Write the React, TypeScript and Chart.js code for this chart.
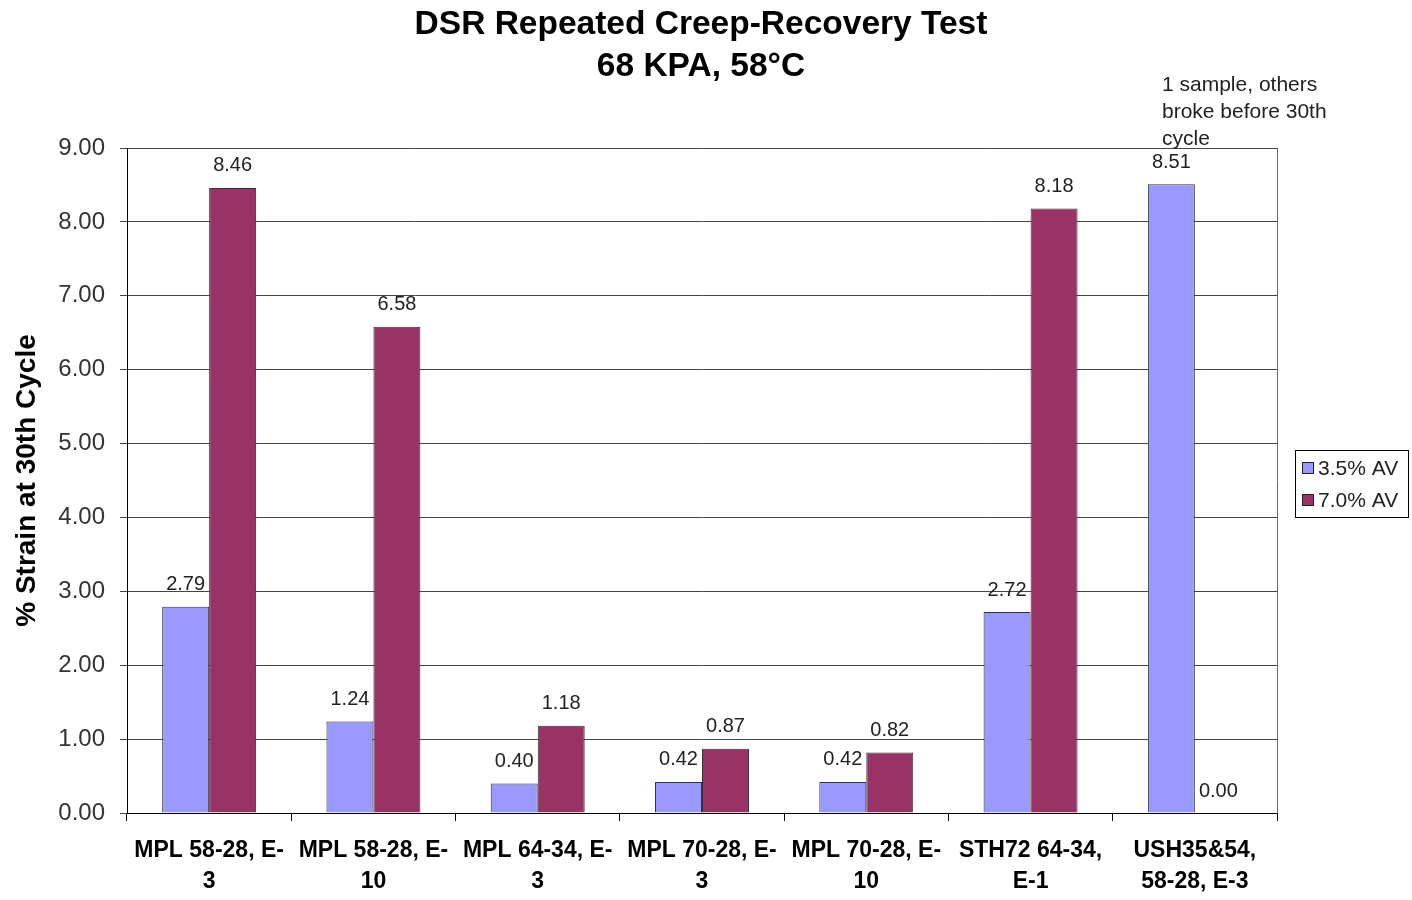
import React, { useEffect, useRef } from "react";
import { Chart, registerables } from "chart.js";

Chart.register(...registerables);

const categories: string[][] = [
  ["MPL 58-28, E-", "3"],
  ["MPL 58-28, E-", "10"],
  ["MPL 64-34, E-", "3"],
  ["MPL 70-28, E-", "3"],
  ["MPL 70-28, E-", "10"],
  ["STH72 64-34,", "E-1"],
  ["USH35&54,", "58-28, E-3"],
];
const av35: number[] = [2.79, 1.24, 0.4, 0.42, 0.42, 2.72, 8.51];
const av70: number[] = [8.46, 6.58, 1.18, 0.87, 0.82, 8.18, 0.0];
const seriesNames = ["3.5% AV", "7.0% AV"];
const seriesColors = ["#9999FF", "#993366"];
const titleLines = ["DSR Repeated Creep-Recovery Test", "68 KPA, 58°C"];
const yTitle = "% Strain at 30th Cycle";
const noteLines = ["1 sample, others", "broke before 30th", "cycle"];

const FONT = "'Liberation Sans', Arial, sans-serif";

const extrasPlugin = {
  id: "extras",
  afterDatasetsDraw(chart: any) {
    const ctx = chart.ctx;
    const area = chart.chartArea;
    ctx.save();
    // right frame line
    ctx.strokeStyle = "#666";
    ctx.lineWidth = 1;
    ctx.beginPath();
    ctx.moveTo(Math.round(area.right) + 0.5, area.top);
    ctx.lineTo(Math.round(area.right) + 0.5, area.bottom);
    ctx.stroke();

    // data labels
    ctx.font = `20px ${FONT}`;
    ctx.fillStyle = "#222";
    ctx.textAlign = "center";
    ctx.textBaseline = "middle";
    chart.data.datasets.forEach((ds: any, di: number) => {
      const meta = chart.getDatasetMeta(di);
      meta.data.forEach((bar: any, i: number) => {
        const v = ds.data[i] as number;
        ctx.fillText(v.toFixed(2), bar.x, bar.y - 22);
      });
    });

    // title
    ctx.fillStyle = "#000";
    ctx.font = `bold 33.5px ${FONT}`;
    ctx.fillText(titleLines[0], 701, 25);
    ctx.fillText(titleLines[1], 701, 67);

    // note
    ctx.font = `21px ${FONT}`;
    ctx.fillStyle = "#222";
    ctx.textAlign = "left";
    noteLines.forEach((t, i) => ctx.fillText(t, 1162, 85 + i * 27));

    // legend
    ctx.strokeStyle = "#000";
    ctx.lineWidth = 1;
    ctx.strokeRect(1295.5, 450.5, 113, 67);
    ctx.font = `21px ${FONT}`;
    seriesNames.forEach((name, i) => {
      const cy = 468 + i * 32;
      ctx.fillStyle = seriesColors[i];
      ctx.fillRect(1302, cy - 6, 12, 12);
      ctx.strokeStyle = "#222";
      ctx.strokeRect(1302.5, cy - 5.5, 11, 11);
      ctx.fillStyle = "#222";
      ctx.fillText(name, 1318, cy + 1);
    });
    ctx.restore();
  },
};

export default function App() {
  const ref = useRef<HTMLCanvasElement | null>(null);
  useEffect(() => {
    if (!ref.current) return;
    const chart = new Chart(ref.current, {
      type: "bar",
      data: {
        labels: categories as any,
        datasets: [
          {
            label: seriesNames[0],
            data: av35,
            backgroundColor: seriesColors[0],
            borderColor: "#333",
            borderWidth: 1,
            categoryPercentage: 0.572,
            barPercentage: 1,
          },
          {
            label: seriesNames[1],
            data: av70,
            backgroundColor: seriesColors[1],
            borderColor: "#333",
            borderWidth: 1,
            categoryPercentage: 0.572,
            barPercentage: 1,
          },
        ],
      },
      options: {
        responsive: false,
        animation: false,
        layout: { padding: { top: 148, right: 135, left: 0, bottom: 0 } },
        plugins: {
          legend: { display: false },
          title: { display: false },
          tooltip: { enabled: false },
        },
        scales: {
          x: {
            afterFit: (s: any) => {
              s.height = 87;
            },
            grid: {
              offset: true,
              drawOnChartArea: false,
              drawTicks: true,
              tickLength: 8,
              color: "#000",
            },
            border: { display: true, color: "#000", width: 1 },
            ticks: {
              maxRotation: 0,
              autoSkip: false,
              padding: 14,
              color: "#000",
              font: { family: FONT, size: 23, weight: "bold", lineHeight: 1.35 },
            },
          },
          y: {
            min: 0,
            max: 9,
            afterFit: (s: any) => {
              s.width = 127;
            },
            grid: {
              color: "#444",
              drawTicks: true,
              tickLength: 7,
            },
            border: { display: true, color: "#000", width: 1 },
            ticks: {
              stepSize: 1,
              padding: 15,
              color: "#333",
              font: { family: FONT, size: 24 },
              callback: (v: any) => Number(v).toFixed(2),
            },
            title: {
              display: true,
              text: yTitle,
              color: "#000",
              font: { family: FONT, size: 28, weight: "bold" },
              padding: { top: 10, bottom: 0 },
            },
          },
        },
      },
      plugins: [extrasPlugin],
    });
    return () => chart.destroy();
  }, []);
  return (
    <div style={{ position: "absolute", left: 0, top: 0, width: 1412, height: 900, background: "#fff" }}>
      <canvas ref={ref} width={1412} height={900} style={{ display: "block" }} />
    </div>
  );
}
